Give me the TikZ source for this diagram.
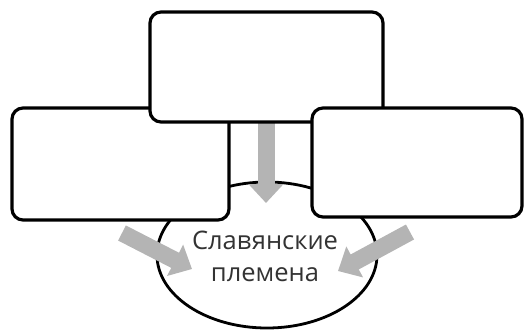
\documentclass[tikz,border=0pt]{standalone}
\usepackage{fontspec}
\setmainfont{Open Sans}
\usetikzlibrary{arrows.meta}
\definecolor{arrowgray}{HTML}{B4B4B4}
\definecolor{textgray}{HTML}{333333}
\begin{document}
\begin{tikzpicture}[x=1pt,y=-1pt,
  box/.style={draw=black,fill=white,line width=3.2pt,rounded corners=11pt},
  bigarrow/.style={draw=arrowgray,line width=17pt,-{Triangle[length=19pt,width=34pt]},shorten >=0pt}]
\useasboundingbox (0,0) rectangle (526,332);
% ellipse
\draw[line width=2.8pt,fill=white] (267,255) ellipse [x radius=110, y radius=73];
\node (el) at (267,255) {};
% text
\node[text=textgray,font=\fontsize{25.5}{32}\selectfont,align=center,inner sep=0pt] (txt) at (265,256) {Славянские\\племена};
% arrow coordinates
\coordinate (ma) at (266,120);
\coordinate (mb) at (266,203);
\coordinate (la) at (122,233);
\coordinate (lb) at (192,269);
\coordinate (ra) at (410,232);
\coordinate (rb) at (338,271);
\draw[bigarrow] (ma) -- (mb);
\draw[bigarrow] (la) -- (lb);
\draw[bigarrow] (ra) -- (rb);
% boxes
\draw[box] (12,108) rectangle (229,220) node[midway] (lbox) {};
\draw[box] (150,12) rectangle (383,122) node[midway] (tbox) {};
\draw[box] (312,108) rectangle (522,217) node[midway] (rbox) {};
\end{tikzpicture}
\end{document}
